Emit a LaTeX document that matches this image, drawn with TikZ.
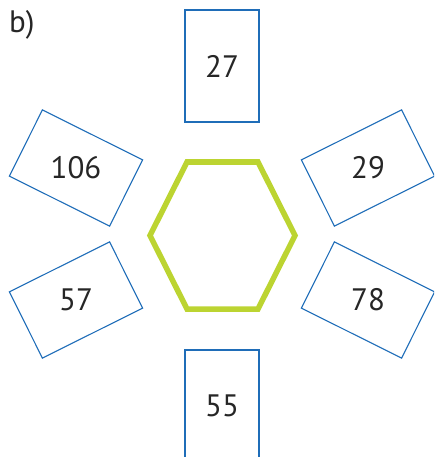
\documentclass[tikz,border=0pt]{standalone}
\usepackage{fontspec}
\setmainfont{PT Sans}
\definecolor{cardblue}{HTML}{1F6DB8}
\definecolor{hexgreen}{HTML}{BCD431}
\begin{document}
\begin{tikzpicture}[x=1pt,y=-1pt,
  card/.style={draw=cardblue, line width=1.1pt, minimum width=112pt, minimum height=74pt, inner sep=0pt},
  vcard/.style={draw=cardblue, line width=1.1pt, minimum width=74pt, minimum height=112pt, inner sep=0pt},
  num/.style={font=\fontsize{31}{36}\selectfont, text=black!85, inner sep=0pt},
  hexline/.style={draw=hexgreen, line width=5.5pt, line join=miter}]
\useasboundingbox (0,0) rectangle (434,457);
\clip (0,0) rectangle (434,457);
% label
\node[anchor=base west, font=\fontsize{31}{36}\selectfont, text=black!85, inner sep=0pt] (lbl) at (9,33) {b)};
% cards
\node[vcard] (cT) at (222,66) {};
\node[vcard] (cB) at (222,406) {};
\node[card, rotate=-26.5] (cUL) at (76,168) {};
\node[card, rotate=26.5] (cUR) at (368,168) {};
\node[card, rotate=26.5] (cLL) at (76,300) {};
\node[card, rotate=-26.5] (cLR) at (368,300) {};
\node[num] (tT) at (cT) {27};
\node[num] (tB) at (cB) {55};
\node[num] (tUL) at (cUL) {106};
\node[num] (tUR) at (cUR) {29};
\node[num] (tLL) at (cLL) {57};
\node[num] (tLR) at (cLR) {78};
% hexagon
\coordinate (h1) at (150,235.5);
\coordinate (h2) at (187,162);
\coordinate (h3) at (258,162);
\coordinate (h4) at (295,235.5);
\coordinate (h5) at (258,309);
\coordinate (h6) at (187,309);
\draw[hexline] (h1) -- (h2) -- (h3) -- (h4) -- (h5) -- (h6) -- cycle;
\end{tikzpicture}
\end{document}
